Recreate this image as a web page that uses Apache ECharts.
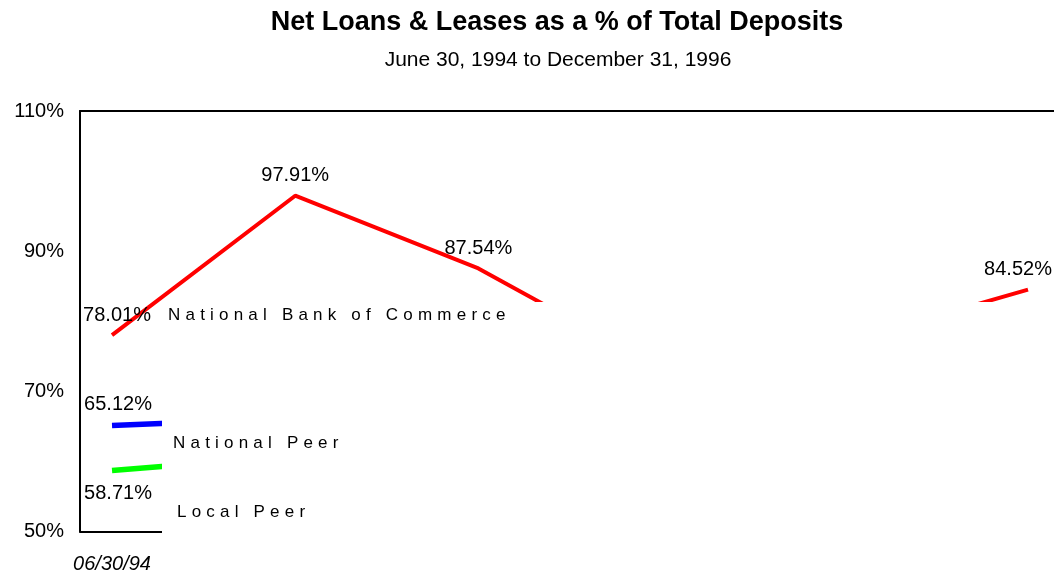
<!DOCTYPE html>
<html>
<head>
<meta charset="utf-8">
<script src="https://cdn.jsdelivr.net/npm/echarts@6/dist/echarts.min.js"></script>
<style>
html,body{margin:0;padding:0;background:#fff;}
#chart{width:1054px;height:578px;}
</style>
</head>
<body>
<div id="chart"></div>
<script>
// ---- data ----
const categories = ['06/30/94', '12/31/94', '06/30/95', '12/31/95', '06/30/96', '12/31/96'];
const nbcValues = [78.01, 97.91, 87.54, 73.2, 77.0, 84.52];
const nationalPeerValues = [65.12, 66.2, 66.8, 67.5, 68.1, 68.6];
const localPeerValues = [58.71, 60.8, 61.5, 62.3, 63.0, 63.6];
const seriesNames = ['National Bank of Commerce', 'National Peer', 'Local Peer'];
const yTicks = [50, 70, 90, 110];
const visibleXLabels = [0];
const titleText = 'Net Loans & Leases as a % of Total Deposits';
const subtitleText = 'June 30, 1994 to December 31, 1996';

// letter-spaced text for the series name labels (drawn by ECharts, spaced at draw time)
(function () {
  const proto = CanvasRenderingContext2D.prototype;
  const orig = proto.fillText;
  proto.fillText = function (t, x, y, m) {
    if (typeof this.font === 'string' && this.font.indexOf('Liberation Sans') >= 0 && 'letterSpacing' in this) {
      const prev = this.letterSpacing;
      this.letterSpacing = '5.2px';
      const r = m === undefined ? orig.call(this, t, x, y) : orig.call(this, t, x, y, m);
      this.letterSpacing = prev;
      return r;
    }
    return m === undefined ? orig.call(this, t, x, y) : orig.call(this, t, x, y, m);
  };
})();

const FONT = 'Arial';
const chart = echarts.init(document.getElementById('chart'), null, { renderer: 'canvas' });

function pairs(vals) { return vals.map((v, i) => [i, v]); }

function labelFor(pos, dist, dx) {
  return {
    show: true, position: pos, distance: dist, offset: [dx, 0],
    formatter: (p) => p.value[1].toFixed(2) + '%',
    fontFamily: FONT, fontSize: 20, color: '#000'
  };
}

const nbcData = pairs(nbcValues).map((d, i) => {
  const o = { value: d };
  if (i === 0) o.label = labelFor('top', 10, 5);
  if (i === 1 || i === 2) o.label = labelFor('top', 10, 0);
  if (i === nbcValues.length - 1) o.label = labelFor('top', 10, -10);
  return o;
});
const npData = pairs(nationalPeerValues).map((d, i) => {
  const o = { value: d };
  if (i === 0) o.label = labelFor('top', 11, 6);
  return o;
});
const lpData = pairs(localPeerValues).map((d, i) => {
  const o = { value: d };
  if (i === 0) o.label = labelFor('bottom', 13, 6);
  return o;
});

const xMin = -0.1747, xMax = 5.1419;

function lineSeries(name, data, color, width, z) {
  return {
    name: name, type: 'line', data: data,
    showSymbol: true, symbol: 'circle', symbolSize: 0,
    lineStyle: { color: color, width: width }, itemStyle: { color: color },
    label: { show: false }, z: z
  };
}

const option = {
  backgroundColor: '#fff',
  animation: false,
  title: [
    { text: titleText, left: 557, top: 9, textAlign: 'center', padding: 0,
      textStyle: { fontFamily: FONT, fontSize: 27, fontWeight: 'bold', color: '#000' } },
    { text: subtitleText, left: 558, top: 50, textAlign: 'center', padding: 0,
      textStyle: { fontFamily: FONT, fontSize: 21, fontWeight: 'normal', color: '#000' } }
  ],
  grid: { left: 80, right: 0, top: 111, bottom: 46.5, containLabel: false },
  xAxis: [
    {
      type: 'value', min: xMin, max: xMax, position: 'bottom',
      axisLine: { show: true, onZero: false, lineStyle: { color: '#000', width: 2 } },
      axisTick: { show: false },
      splitLine: { show: false },
      axisLabel: {
        customValues: visibleXLabels,
        formatter: (v) => categories[Math.round(v)] || '',
        fontFamily: FONT, fontSize: 20, fontStyle: 'italic', color: '#000', margin: 23
      }
    },
    {
      type: 'value', min: xMin, max: xMax, position: 'top',
      axisLine: { show: true, onZero: false, lineStyle: { color: '#000', width: 2 } },
      axisTick: { show: false }, splitLine: { show: false }, axisLabel: { show: false }
    }
  ],
  yAxis: {
    type: 'value', min: yTicks[0], max: yTicks[yTicks.length - 1], interval: 20,
    axisLine: { show: true, onZero: false, lineStyle: { color: '#000', width: 2 } },
    axisTick: { show: false },
    splitLine: { show: false },
    axisLabel: { formatter: '{value}%', fontFamily: FONT, fontSize: 20, color: '#000', margin: 16 }
  },
  series: [
    lineSeries(seriesNames[1], npData, '#0000ff', 5.5, 2),
    lineSeries(seriesNames[2], lpData, '#00ff00', 5.5, 2),
    lineSeries(seriesNames[0], nbcData, '#ff0000', 4, 3)
  ],
  graphic: [
    { type: 'rect', z: 50, silent: true, shape: { x: 162, y: 302, width: 892, height: 276 },
      style: { fill: '#fff' } },
    { type: 'text', z: 60, x: 168, y: 315, style: { text: seriesNames[0], fontSize: 17,
      fontFamily: '"Liberation Sans", Arial', fill: '#000', align: 'left', verticalAlign: 'middle' } },
    { type: 'text', z: 60, x: 173, y: 443, style: { text: seriesNames[1], fontSize: 17,
      fontFamily: '"Liberation Sans", Arial', fill: '#000', align: 'left', verticalAlign: 'middle' } },
    { type: 'text', z: 60, x: 177, y: 512, style: { text: seriesNames[2], fontSize: 17,
      fontFamily: '"Liberation Sans", Arial', fill: '#000', align: 'left', verticalAlign: 'middle' } }
  ]
};
chart.setOption(option);
</script>
</body>
</html>
